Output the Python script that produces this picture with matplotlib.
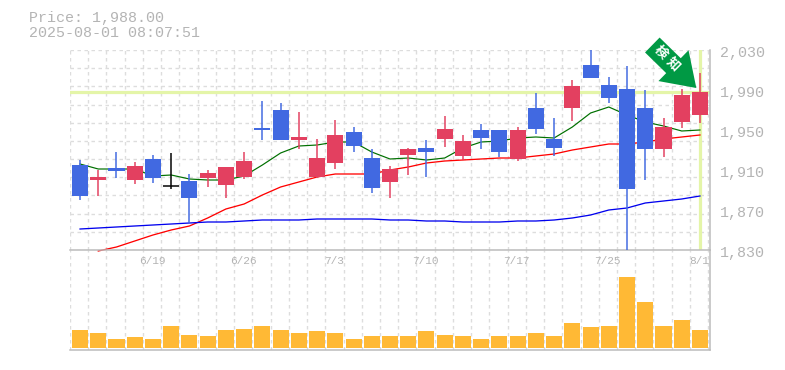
# candlestick chart with volume

import matplotlib
matplotlib.use('Agg')
from matplotlib import pyplot as plt

plt.rcParams['font.family'] = ['Liberation Mono', 'Noto Sans CJK JP', 'DejaVu Sans']

bodies_top = [1915, 1903, 1912, 1914, 1921, 1894, 1899, 1907, 1913, 1919,
              1952, 1970, 1943, 1922, 1945, 1948, 1922, 1911, 1931, 1932,
              1951, 1939, 1950, 1950, 1950, 1972, 1941, 1994, 2015, 1995,
              1991, 1972, 1953, 1985, 1988]
bodies_bottom = [1884, 1900, 1909, 1900, 1902, 1894, 1882, 1902, 1895, 1903,
                 1950, 1940, 1940, 1903, 1917, 1934, 1892, 1898, 1925, 1928,
                 1941, 1924, 1942, 1928, 1921, 1951, 1932, 1972, 2002, 1982,
                 1891, 1931, 1931, 1958, 1965]
highs = [1920, 1910, 1928, 1918, 1925, 1927, 1906, 1910, 1913, 1928,
         1979, 1977, 1968, 1941, 1960, 1953, 1931, 1914, 1932, 1940,
         1964, 1945, 1956, 1950, 1953, 1987, 1962, 2000, 2030, 2003,
         2014, 1990, 1962, 1991, 2007]
lows = [1880, 1884, 1902, 1896, 1897, 1891, 1857, 1893, 1882, 1901,
        1940, 1940, 1931, 1902, 1911, 1928, 1887, 1882, 1905, 1903,
        1933, 1920, 1931, 1923, 1919, 1946, 1924, 1959, 2002, 1977,
        1830, 1900, 1923, 1952, 1957]
# True = up (red), False = down (blue), None = no change (black)
is_up = [False, True, False, True, False, None, False, True, True, True,
         False, False, True, True, True, False, False, True, True, False,
         True, True, False, False, True, False, False, True, False, False,
         False, False, True, True, True]

ma_short = [1916, 1911, 1911, 1911, 1904, 1905, 1901, 1900, 1900, 1904,
            1915, 1927, 1934, 1935, 1938, 1938, 1928, 1921, 1922, 1920,
            1922, 1932, 1938, 1939, 1942, 1943, 1942, 1953, 1967, 1973,
            1965, 1958, 1954, 1949, 1950]
ma_mid = [None, 1829, 1833, 1839, 1845, 1850, 1854, 1862, 1871, 1876,
          1885, 1893, 1898, 1903, 1906, 1906, 1906, 1910, 1913, 1917,
          1919, 1920, 1921, 1922, 1922, 1924, 1926, 1930, 1933, 1936,
          1936, 1938, 1941, 1943, 1945]
ma_long = [1851, 1852, 1853, 1854, 1855, 1856, 1857, 1858, 1858, 1859,
           1860, 1860, 1860, 1861, 1861, 1861, 1861, 1860, 1860, 1859,
           1859, 1858, 1858, 1858, 1859, 1859, 1860, 1862, 1865, 1870,
           1872, 1877, 1879, 1881, 1884]
volumes = [18, 15, 9, 11, 9, 22, 13, 12, 18, 19, 22, 18, 15, 17, 15, 9, 12, 12,
           12, 17, 13, 12, 9, 12, 12, 15, 12, 25, 21, 22, 71, 46, 22, 28, 18]

date_pos = [4, 9, 14, 19, 24, 29, 34]
date_labels = ['6/19', '6/26', '7/3', '7/10', '7/17', '7/25', '8/1']
price_ticks = [1830, 1870, 1910, 1950, 1990, 2030]
last_price = 1988.00
stamp = '2025-08-01 08:07:51'

BLUE = '#4169e1'
RED = '#e34060'
LINE = '#bbbbbb'
TEXT = '#b4b4b4'
GRID = '#dddddd'
HILITE = '#e4f5a8'
px = 72 / 100

fig = plt.figure(figsize=(7.85, 3.70), dpi=100)
vol = fig.add_axes([70 / 785, 1 - 350 / 370, 640 / 785, 100 / 370])
ax = fig.add_axes([70 / 785, 1 - 250 / 370, 640 / 785, 200 / 370])
vol.patch.set_visible(False)
ax.patch.set_visible(False)

n = len(highs)
xlim = (-0.55, n - 1 + 0.55)
x_grid = [k - 0.55 for k in range(n + 1)]
y_grid = [1830 + k * 200 / 11 for k in range(12)]

for a in (ax, vol):
    a.set_xlim(*xlim)
    a.set_xticks(x_grid)
    a.tick_params(length=0, labelbottom=False, labelleft=False)
    a.grid(True, axis='x', color=GRID, linewidth=1.4 * px, linestyle=(0, (2.5, 2.5)))
    a.set_axisbelow(True)
    for s in a.spines.values():
        s.set_visible(False)
    a.spines['right'].set_visible(True)
    a.spines['right'].set_color(LINE)
    a.spines['right'].set_linewidth(1.5 * px)
    a.spines['bottom'].set_visible(True)
    a.spines['bottom'].set_color(LINE)
    a.spines['bottom'].set_linewidth(1.5 * px)

ax.set_ylim(1830, 2030)
ax.set_yticks(y_grid)
ax.grid(True, axis='y', color=GRID, linewidth=1.4 * px, linestyle=(0, (2.5, 2.5)))

# highlight lines
ax.axhline(last_price, color=HILITE, linewidth=3.2 * px, zorder=1)
ax.axvline(n - 1, color=HILITE, linewidth=3.2 * px, zorder=1)

# moving averages
xs = list(range(n))
ax.plot(xs, ma_short, color='#007000', linewidth=1.2 * px, zorder=2)
ax.plot(xs, ma_mid, color='#ff0000', linewidth=1.3 * px, zorder=2, clip_on=False)
ax.plot(xs, ma_long, color='#0000ee', linewidth=1.3 * px, zorder=2)

# candles
for i in range(n):
    if is_up[i] is None:
        c = 'black'
    else:
        c = RED if is_up[i] else BLUE
    ax.vlines(i, lows[i], highs[i], color=c, linewidth=1.5 * px, zorder=3)
    if is_up[i] is None:
        ax.hlines(bodies_top[i], i - 0.44, i + 0.44, color=c, linewidth=1.5 * px, zorder=3)
    else:
        ax.bar(i, bodies_top[i] - bodies_bottom[i], 0.88, bottom=bodies_bottom[i], color=c, zorder=3)

# signal arrow next to the last candle
ax.annotate('', xy=(n - 1.2, last_price + 4), xycoords='data',
            xytext=(-44, 43), textcoords='offset pixels',
            arrowprops=dict(arrowstyle='simple,tail_width=15,head_width=31,head_length=23',
                            mutation_scale=1, color='#009944', linewidth=0,
                            shrinkA=0, shrinkB=0),
            zorder=5, annotation_clip=False)
fig.text(660.7 / 785, 1 - 53 / 370, '検', color='white', fontsize=9.5, fontweight='bold',
         rotation=-45, rotation_mode='anchor', ha='center', va='center', zorder=6)
fig.text(672.7 / 785, 1 - 64.7 / 370, '知', color='white', fontsize=9.5, fontweight='bold',
         rotation=-45, rotation_mode='anchor', ha='center', va='center', zorder=6)

# volume
vol.set_ylim(-2, 98)
vol.set_yticks([])
vol.bar(xs, volumes, 0.88, color='#ffb935', zorder=3)

# text
for p in price_ticks:
    ax.annotate(f'{p:,}', xy=(1, p), xycoords=('axes fraction', 'data'), xytext=(10, -3),
                textcoords='offset pixels', color=TEXT, fontsize=10.8, ha='left', va='center',
                annotation_clip=False)
for pos, label in zip(date_pos, date_labels):
    ax.annotate(label, xy=(pos, 0), xycoords=('data', 'axes fraction'), xytext=(-1, -11),
                textcoords='offset pixels', color=TEXT, fontsize=8, ha='center', va='center',
                annotation_clip=False)
fig.text(29 / 785, 1 - 18 / 370, f'Price: {last_price:,.2f}', color=TEXT, fontsize=10.8, ha='left', va='center')
fig.text(29 / 785, 1 - 33 / 370, stamp, color=TEXT, fontsize=10.8, ha='left', va='center')

fig.savefig('out.png', dpi=100)
